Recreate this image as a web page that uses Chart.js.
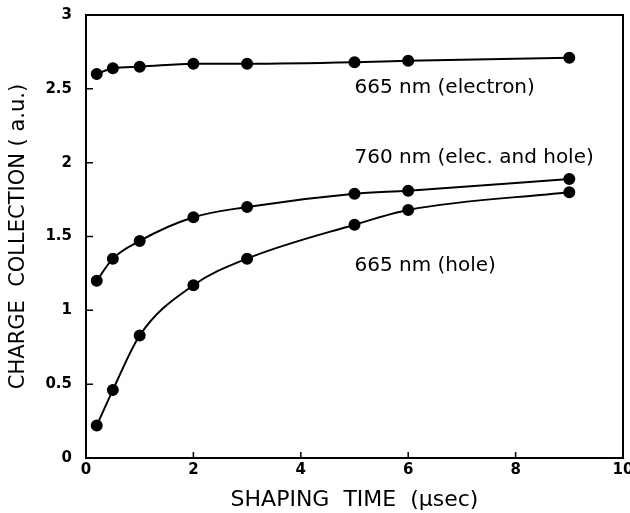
<!DOCTYPE html>
<html>
<head>
<meta charset="utf-8">
<script src="https://cdn.jsdelivr.net/npm/chart.js@4/dist/chart.umd.min.js"></script>
<style>
  html, body { margin: 0; padding: 0; background: #fff; }
  #wrap { width: 630px; height: 513px; }
</style>
</head>
<body>
<div id="wrap"><canvas id="c" width="630" height="513"></canvas></div>
<script>
// ---- data ----
const shapingTime = [0.2, 0.5, 1, 2, 3, 5, 6, 9];              // µsec
const electron665 = [2.60, 2.64, 2.65, 2.67, 2.67, 2.68, 2.69, 2.71];
const elecHole760 = [1.20, 1.35, 1.47, 1.63, 1.70, 1.79, 1.81, 1.89];
const hole665     = [0.22, 0.46, 0.83, 1.17, 1.35, 1.58, 1.68, 1.80];
const seriesNames = ['665 nm (electron)', '760 nm (elec. and hole)', '665 nm (hole)'];
const xTickValues = [0, 2, 4, 6, 8, 10];
const yTickValues = [0, 0.5, 1, 1.5, 2, 2.5, 3];
const xTitle = 'SHAPING  TIME  (\u03bcsec)';
const yTitle = 'CHARGE  COLLECTION ( a.u.)';

const FONT = '"DejaVu Sans", "Liberation Sans", Arial, sans-serif';
const toPts = (ys) => shapingTime.map((x, i) => ({ x: x, y: ys[i] }));

function ds(label, ys) {
  return {
    label: label,
    data: toPts(ys),
    borderColor: '#000',
    backgroundColor: '#000',
    borderWidth: 2,
    pointRadius: 5,
    pointHoverRadius: 5,
    pointBackgroundColor: '#000',
    pointBorderColor: '#000',
    cubicInterpolationMode: 'monotone',
    fill: false
  };
}

// Inline series labels, anchored in data coordinates
const labelAnchors = [
  { text: seriesNames[0], x: 5.0, y: 2.51 },
  { text: seriesNames[1], x: 5.0, y: 2.035 },
  { text: seriesNames[2], x: 5.0, y: 1.30 }
];

const framePlugin = {
  id: 'frame',
  afterDraw(chart) {
    const { ctx, chartArea: a, scales } = chart;
    ctx.save();
    ctx.strokeStyle = '#000';
    ctx.lineWidth = 2;
    ctx.strokeRect(a.left, a.top, a.right - a.left, a.bottom - a.top);
    // inward ticks
    ctx.lineWidth = 1.5;
    ctx.beginPath();
    xTickValues.forEach(v => {
      const px = scales.x.getPixelForValue(v);
      ctx.moveTo(px, a.bottom);
      ctx.lineTo(px, a.bottom - 6);
    });
    yTickValues.forEach(v => {
      const py = scales.y.getPixelForValue(v);
      ctx.moveTo(a.left, py);
      ctx.lineTo(a.left + 7, py);
    });
    ctx.stroke();
    // series labels
    ctx.fillStyle = '#000';
    ctx.font = '20px ' + FONT;
    ctx.textAlign = 'left';
    ctx.textBaseline = 'middle';
    labelAnchors.forEach(l => {
      ctx.fillText(l.text, scales.x.getPixelForValue(l.x), scales.y.getPixelForValue(l.y));
    });
    ctx.restore();
  }
};

new Chart(document.getElementById('c'), {
  type: 'line',
  data: {
    datasets: [
      ds(seriesNames[0], electron665),
      ds(seriesNames[1], elecHole760),
      ds(seriesNames[2], hole665)
    ]
  },
  options: {
    responsive: false,
    animation: false,
    devicePixelRatio: 1,
    layout: { padding: { left: 0, top: 15, right: 7, bottom: 0 } },
    plugins: { legend: { display: false }, tooltip: { enabled: false } },
    scales: {
      x: {
        type: 'linear',
        min: 0, max: 10,
        afterBuildTicks: (s) => { s.ticks = xTickValues.map(v => ({ value: v })); },
        afterFit: (s) => { s.height = 55; s.paddingLeft = 0; s.paddingRight = 0; },
        grid: { display: false, drawTicks: false },
        border: { display: false },
        ticks: {
          color: '#000', padding: 3,
          font: { family: FONT, size: 15, weight: 'bold' },
          maxRotation: 0,
          callback: (v) => String(v)
        },
        title: {
          display: true, text: xTitle, color: '#000',
          font: { family: FONT, size: 22 },
          padding: { top: 2, bottom: 0 }
        }
      },
      y: {
        type: 'linear',
        min: 0, max: 3,
        afterBuildTicks: (s) => { s.ticks = yTickValues.map(v => ({ value: v })); },
        afterFit: (s) => { s.width = 86; s.paddingTop = 0; s.paddingBottom = 0; },
        grid: { display: false, drawTicks: false },
        border: { display: false },
        ticks: {
          color: '#000', padding: 14,
          font: { family: FONT, size: 15, weight: 'bold' },
          callback: (v) => String(v)
        },
        title: {
          display: true, text: yTitle, color: '#000',
          font: { family: FONT, size: 21 },
          padding: { top: 6, bottom: 0 }
        }
      }
    }
  },
  plugins: [framePlugin]
});
</script>
</body>
</html>
